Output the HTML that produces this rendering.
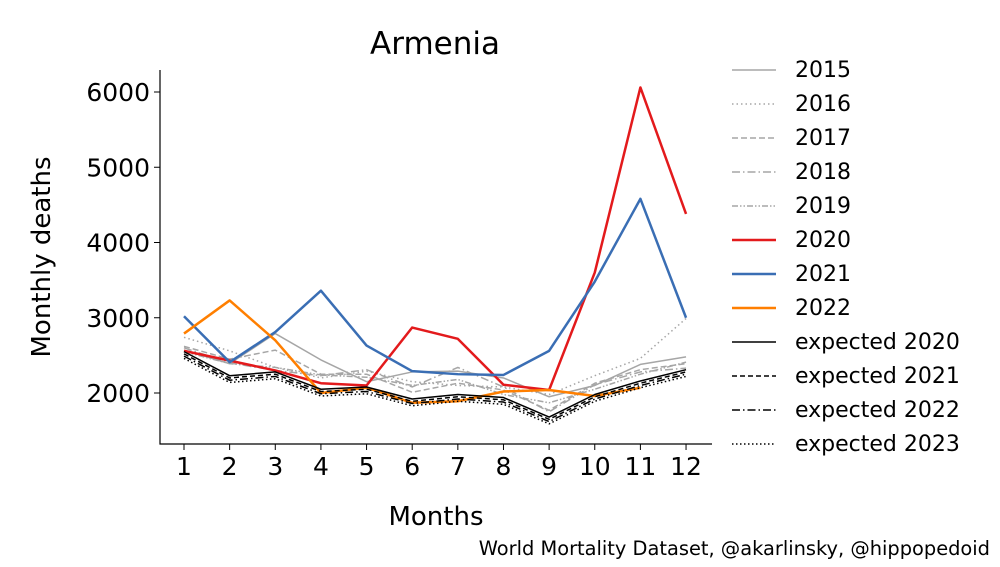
<!DOCTYPE html>
<html><head><meta charset="utf-8"><style>
body{margin:0;background:#fff;font-family:"Liberation Sans","DejaVu Sans",sans-serif}
svg text{font-family:"DejaVu Sans","Liberation Sans",sans-serif}
</style></head><body>
<svg id="c" width="1000" height="562"></svg>
<script>
const months=[1,2,3,4,5,6,7,8,9,10,11,12];
const yTicks=[2000,3000,4000,5000,6000];
const s2015=[2570,2390,2790,2440,2150,2280,2290,2200,1950,2100,2380,2480];
const s2016=[2740,2560,2340,2200,2290,2150,2100,2080,1980,2230,2460,2990];
const s2017=[2620,2450,2570,2250,2250,2010,2130,2040,1770,2130,2310,2390];
const s2018=[2600,2400,2300,2230,2310,2080,2340,2080,1750,2110,2280,2330];
const s2019=[2550,2390,2340,2240,2210,2100,2180,1980,1870,2050,2250,2410];
const s2020=[2560,2430,2300,2130,2100,2870,2720,2110,2040,3600,6060,4380];
const s2021=[3020,2410,2810,3360,2630,2290,2250,2240,2560,3480,4580,3000];
const s2022=[2790,3230,2700,2000,2070,1870,1890,2020,2040,1960,2070];
const e2020=[2550,2230,2280,2050,2080,1920,1980,1940,1680,1980,2160,2310];
const e2021=[2520,2200,2250,2020,2050,1890,1950,1910,1650,1950,2130,2280];
const e2022=[2490,2170,2220,1990,2020,1860,1920,1880,1620,1920,2100,2250];
const e2023=[2460,2140,2190,1960,1990,1830,1890,1850,1590,1890,2070,2220];
const series=[
 ["2015",s2015,"#a6a6a6",1.5,""],["2016",s2016,"#a6a6a6",1.5,"1.5,3"],
 ["2017",s2017,"#a6a6a6",1.5,"6,3"],["2018",s2018,"#a6a6a6",1.5,"8,3,1.5,3"],
 ["2019",s2019,"#a6a6a6",1.5,"6,2,1.5,2,1.5,2"],["2020",s2020,"#e31a1c",2.5,""],
 ["2021",s2021,"#3a6eb4",2.5,""],["2022",s2022,"#ff7f00",2.5,""],
 ["expected 2020",e2020,"#000",1.5,""],["expected 2021",e2021,"#000",1.5,"5,3"],
 ["expected 2022",e2022,"#000",1.5,"8,3,1.5,3"],["expected 2023",e2023,"#000",1.5,"1.5,2.5"]];
const NS="http://www.w3.org/2000/svg",svg=document.getElementById('c');
function X(m){return 184+(m-1)*45.64;}
function Y(v){return 393-(v-2000)*0.07525;}
function mk(t,a,p){const e=document.createElementNS(NS,t);for(const k in a)e.setAttribute(k,a[k]);(p||svg).appendChild(e);return e;}
function tx(x,y,s,size,anchor,name,rot){const e=mk('text',{x:x,y:y,'font-size':size,'text-anchor':anchor||'middle',fill:'#000'});


if(rot)e.setAttribute('transform',rot);e.textContent=s;return e;}
let ax=mk('path',{d:'M160,70 V444 H712',stroke:'#000','stroke-width':1.2,fill:'none'});


months.forEach(m=>{const t=mk('line',{x1:X(m),x2:X(m),y1:444,y2:450,stroke:'#000'});


tx(X(m),475,m,25,'middle','x-tick-label');});
yTicks.forEach(v=>{const t=mk('line',{x1:154,x2:160,y1:Y(v),y2:Y(v),stroke:'#000'});


tx(150,Y(v)+9,v,25,'end','y-tick-label');});
tx(435,54,'Armenia',31,'middle','chart-title');
tx(436,525,'Months',26,'middle','x-axis-title');
tx(50,257,'Monthly deaths',26,'middle','y-axis-title','rotate(-90 50 257)');
tx(990,555,'World Mortality Dataset, @akarlinsky, @hippopedoid',19.4,'end','source-note');
series.forEach((s,i)=>{
 const p=mk('polyline',{points:s[1].map((v,j)=>X(months[j])+','+Y(v)).join(' '),fill:'none',stroke:s[2],'stroke-width':s[3],'stroke-dasharray':s[4],'stroke-linejoin':'round'});
 
 
 const y=70+i*34.0;
 const l=mk('line',{x1:732,x2:776,y1:y,y2:y,stroke:s[2],'stroke-width':s[3],'stroke-dasharray':s[4]});
 
 
 tx(795,y+7,s[0],22,'start','legend-entry');
});
</script></body></html>
